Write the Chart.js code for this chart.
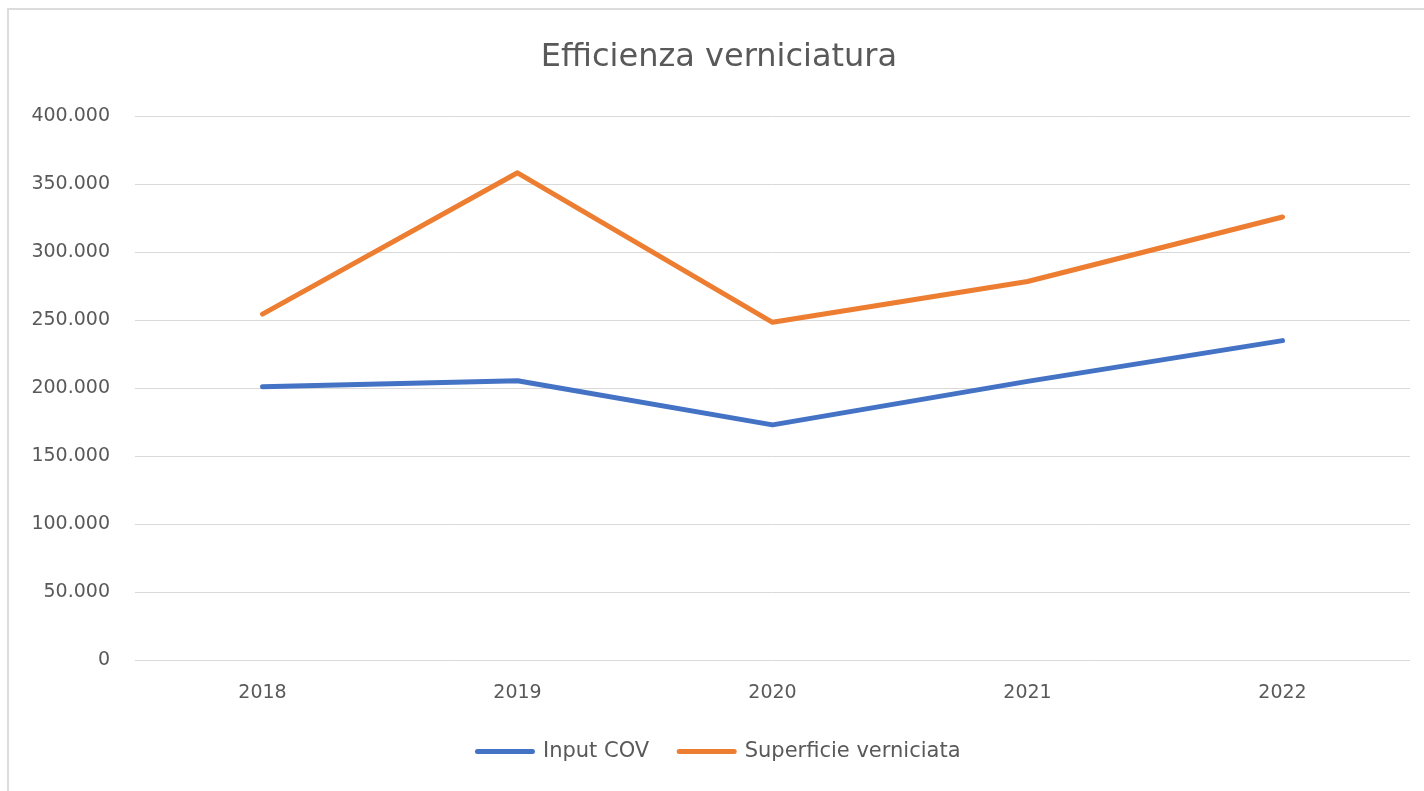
<!DOCTYPE html>
<html>
<head>
<meta charset="utf-8">
<title>Efficienza verniciatura</title>
<script src="https://cdn.jsdelivr.net/npm/chart.js@4/dist/chart.umd.min.js"></script>
<style>
  html, body { margin:0; padding:0; background:#fff; }
  #wrap { position:relative; width:1424px; height:791px; overflow:hidden; }
  #frame { position:absolute; left:7px; top:8px; right:-10px; bottom:-10px; border-left:2px solid #dcdcdc; border-top:2px solid #dcdcdc; pointer-events:none; }
  canvas { position:absolute; left:0; top:0; }
</style>
</head>
<body>
<div id="wrap">
  <canvas id="chart" width="1424" height="791"></canvas>
  <div id="frame"></div>
</div>
<script>
// data
const years = ['2018', '2019', '2020', '2021', '2022'];
const inputCOV = [201000, 205500, 173000, 205000, 235000];
const superficieVerniciata = [254500, 358500, 248500, 278500, 326000];
const yTicks = [0, 50000, 100000, 150000, 200000, 250000, 300000, 350000, 400000];

const grey = '#595959';

// 400000 -> "400.000"
function fmt(v){
    return String(v).replace(/\B(?=(\d{3})+(?!\d))/g, '.');
}

new Chart(document.getElementById('chart').getContext('2d'), {
    type:'line',
    data:{
        labels: years,
        datasets:[
            {label:'Input COV', data: inputCOV, borderColor:'#4472C4', backgroundColor:'#4472C4',
             borderWidth:5, pointRadius:0, borderCapStyle:'round', borderJoinStyle:'round', tension:0},
            {label:'Superficie verniciata', data: superficieVerniciata, borderColor:'#ED7D31', backgroundColor:'#ED7D31',
             borderWidth:5, pointRadius:0, borderCapStyle:'round', borderJoinStyle:'round', tension:0}
        ]
    },
    options:{
        responsive:false,
        animation:false,
        layout:{padding:{left:28, right:14, top:0, bottom:19}},
        plugins:{
            title:{display:true, text:'Efficienza verniciatura', color:grey,
                   font:{family:'DejaVu Sans', size:32, weight:'normal'}, padding:{top:38, bottom:40}},
            legend:{position:'bottom',
                    labels:{color:grey, boxWidth:55, boxHeight:0.01, padding:30,
                            font:{family:'DejaVu Sans', size:21}}},
            tooltip:{enabled:false}
        },
        scales:{
            x:{
                offset:true,
                grid:{display:false, drawTicks:false},
                border:{display:false},
                ticks:{color:grey, padding:22, font:{family:'DejaVu Sans', size:19}},
                afterFit:s=>{ s.height = 51; }
            },
            y:{
                min:0, max:400000,
                afterBuildTicks:s=>{ s.ticks = yTicks.map(v=>({value:v})); },
                grid:{color:'#d9d9d9', lineWidth:1, drawTicks:false},
                border:{display:false},
                ticks:{color:grey, padding:25, font:{family:'DejaVu Sans', size:19}, callback:v=>fmt(v)},
                afterFit:s=>{ s.width = 107; }
            }
        }
    }
});
</script>
</body>
</html>
